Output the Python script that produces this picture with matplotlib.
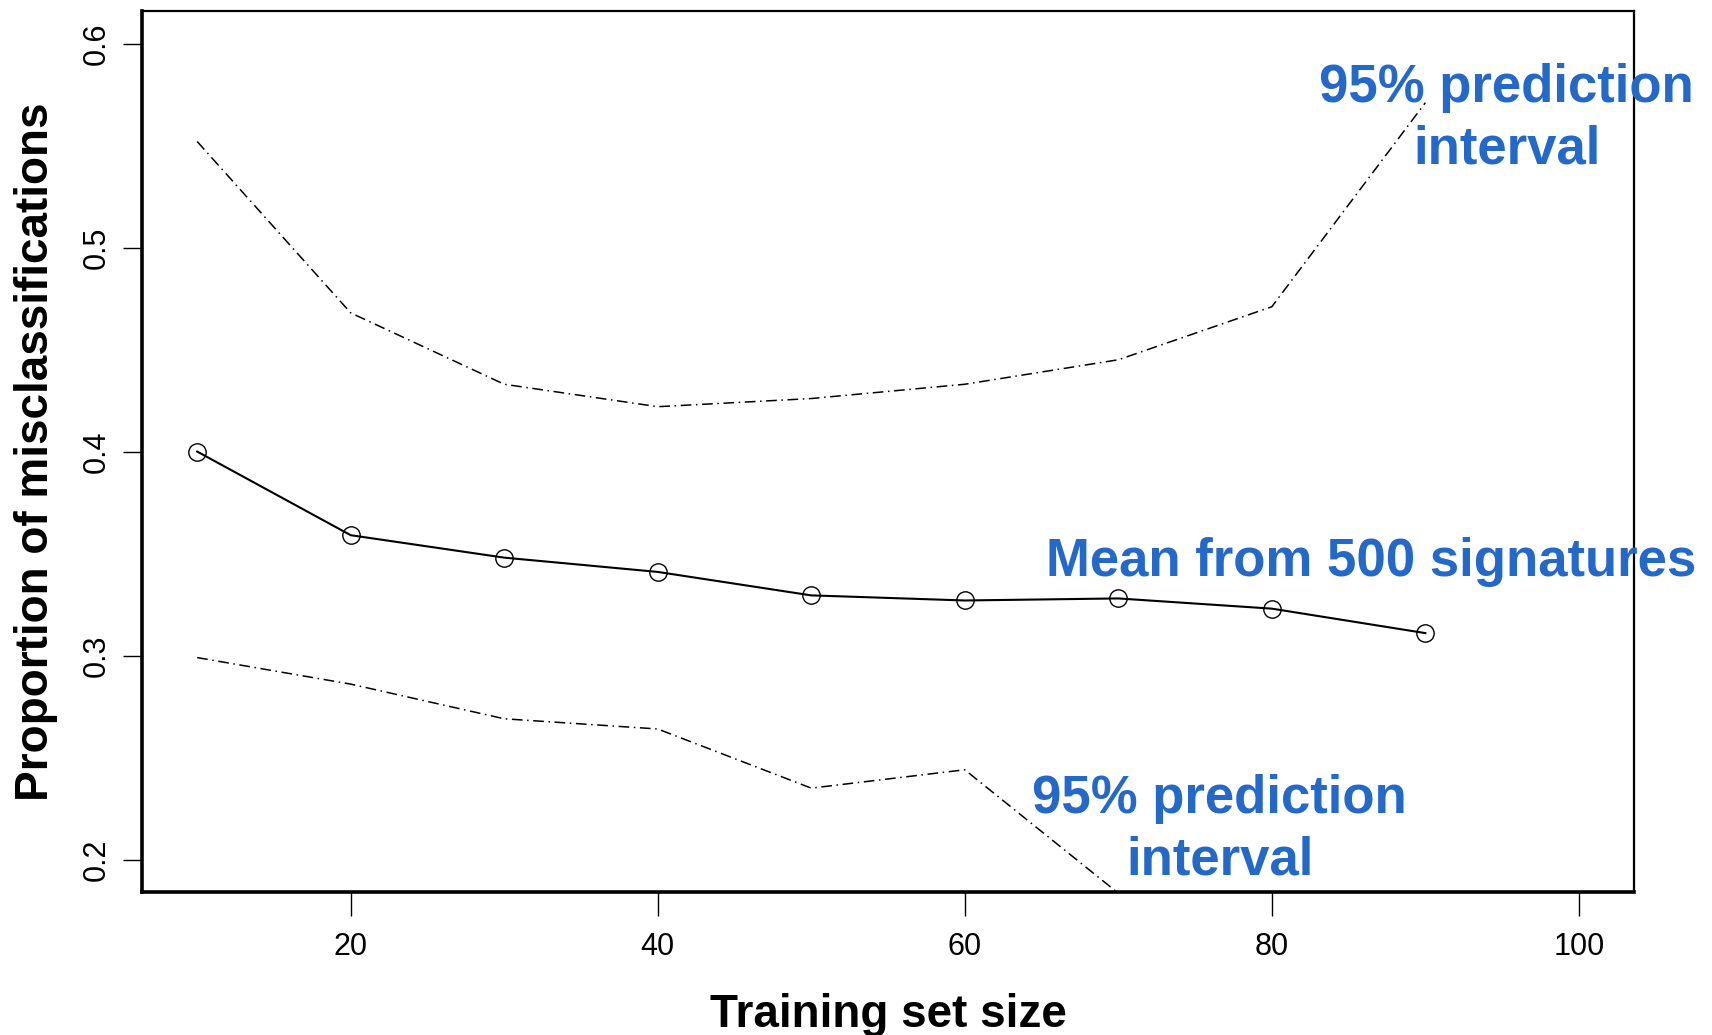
import matplotlib
matplotlib.use("Agg")
import matplotlib.pyplot as plt

plt.rcParams['font.family'] = ['Liberation Sans', 'DejaVu Sans']

# Misclassification rate vs training set size
train_size = [10, 20, 30, 40, 50, 60, 70, 80, 90]
mean_err = [0.400, 0.359, 0.348, 0.341, 0.3295, 0.327, 0.328, 0.323, 0.311]
upper_pi = [0.552, 0.468, 0.433, 0.422, 0.426, 0.433, 0.445, 0.471, 0.571]
lower_pi = [0.299, 0.286, 0.269, 0.264, 0.235, 0.244, 0.1835, 0.172, 0.165]

x_ticks = [20, 40, 60, 80, 100]
y_ticks = [0.2, 0.3, 0.4, 0.5, 0.6]

BLUE = "#2468C8"

fig = plt.figure(figsize=(17.12, 10.35), dpi=100)
ax = fig.add_axes([0.0829, 0.138, 0.9545 - 0.0829, 0.9894 - 0.138])

# R-style limits: data range padded by 4%
ax.set_xlim(6.4, 103.6)
ax.set_ylim(0.184, 0.616)

ax.plot(train_size, mean_err, color="black", lw=1.5, marker="o", ms=12.5,
        mfc="none", mec="black", mew=1.0)
ax.plot(train_size, upper_pi, color="black", lw=1.1, dashes=(7, 3, 1, 3))
ax.plot(train_size, lower_pi, color="black", lw=1.1, dashes=(7, 3, 1, 3))

ax.set_xticks(x_ticks)
ax.set_xticklabels([str(v) for v in x_ticks])
ax.set_yticks(y_ticks)
ax.set_yticklabels([f"{v:.1f}" for v in y_ticks], rotation=90, va="center")
ax.tick_params(axis="x", direction="out", length=17, width=1.0, labelsize=22, pad=12)
ax.tick_params(axis="y", direction="out", length=14, width=1.0, labelsize=22, pad=8)

for side in ["left", "bottom"]:
    ax.spines[side].set_linewidth(2.6)
for side in ["top", "right"]:
    ax.spines[side].set_linewidth(1.6)

ax.set_xlabel("Training set size", fontsize=33, fontweight="bold", labelpad=22)
ax.set_ylabel("Proportion of misclassifications", fontsize=33, fontweight="bold", labelpad=17)

txt = dict(color=BLUE, fontsize=38, fontweight="bold", ha="center", va="center",
           clip_on=False, linespacing=1.3)
ax.text(95.3, 0.563, "95% prediction\ninterval", **txt)
ax.text(86.5, 0.346, "Mean from 500 signatures", **txt)
ax.text(76.6, 0.2145, "95% prediction\ninterval", **txt)

fig.savefig("out.png", dpi=100)
